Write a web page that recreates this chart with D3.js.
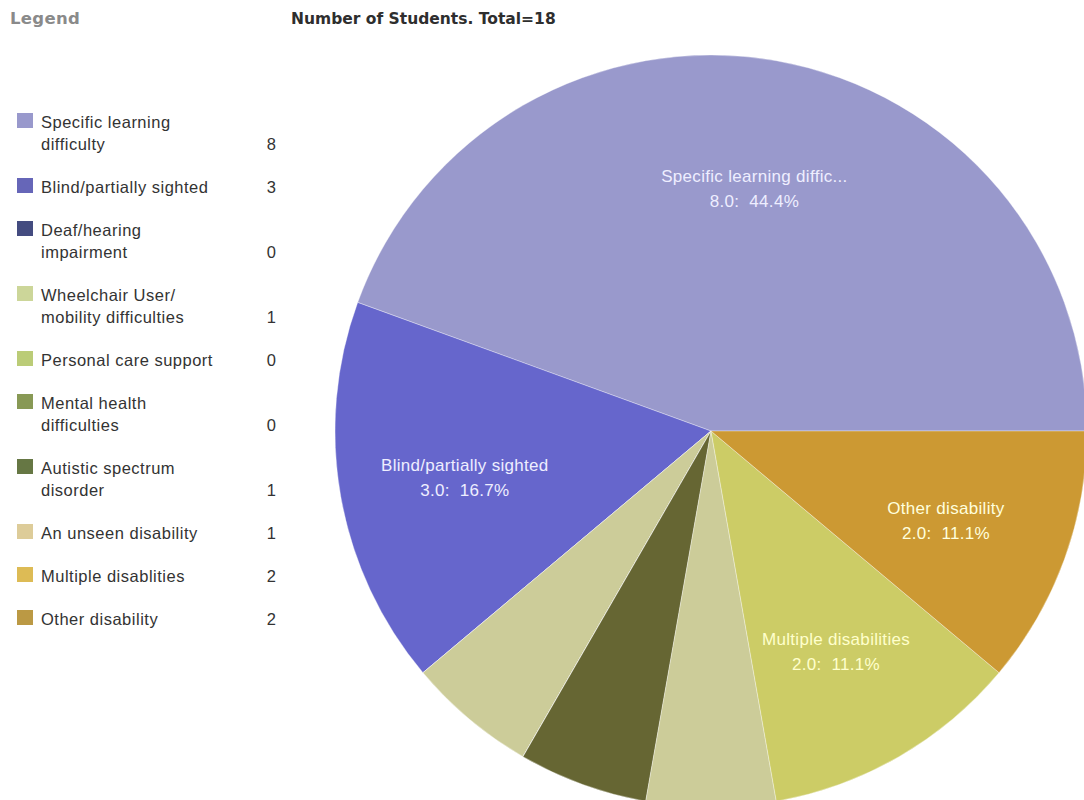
<!DOCTYPE html>
<html>
<head>
<meta charset="utf-8">
<script src="https://cdn.jsdelivr.net/npm/d3@7"></script>
<style>
  html, body { margin: 0; padding: 0; background: #fff; }
  svg { display: block; }
</style>
</head>
<body>
<svg id="chart" width="1084" height="800"></svg>
<script>
// ---- data ----
const categories = [
  "Specific learning difficulty",
  "Blind/partially sighted",
  "Deaf/hearing impairment",
  "Wheelchair User/ mobility difficulties",
  "Personal care support",
  "Mental health difficulties",
  "Autistic spectrum disorder",
  "An unseen disability",
  "Multiple disablities",
  "Other disability"
];
const legendLines = [
  ["Specific learning", "difficulty"],
  ["Blind/partially sighted"],
  ["Deaf/hearing", "impairment"],
  ["Wheelchair User/", "mobility difficulties"],
  ["Personal care support"],
  ["Mental health", "difficulties"],
  ["Autistic spectrum", "disorder"],
  ["An unseen disability"],
  ["Multiple disablities"],
  ["Other disability"]
];
const pieLabels = [
  "Specific learning difficulty",
  "Blind/partially sighted",
  "Deaf/hearing impairment",
  "Wheelchair User/ mobility difficulties",
  "Personal care support",
  "Mental health difficulties",
  "Autistic spectrum disorder",
  "An unseen disability",
  "Multiple disabilities",
  "Other disability"
];
const values = [8, 3, 0, 1, 0, 0, 1, 1, 2, 2];
const title = "Number of Students. Total=18";

// ---- styles ----
const legendColors = ["#9999cc", "#6666b8", "#444c80", "#ccd699", "#bbcc77", "#889955", "#667744", "#ddcc99", "#ddbb55", "#bb9944"];
const sliceColors  = ["#9999cc", "#6666cc", "#444c80", "#cccc99", "#bbcc77", "#889955", "#666633", "#cccc99", "#cccc66", "#cc9933"];
const labelColors  = ["#eeeeff", "#eeeeff", "#ffffff", "#ffffee", "#ffffee", "#ffffee", "#ffffee", "#ffffee", "#ffffcc", "#ffffdd"];
const FONT = "'Liberation Sans', Arial, sans-serif";
const BOLD = "'DejaVu Sans', Verdana, sans-serif";

const svg = d3.select("#chart");
const total = d3.sum(values);

// headings
svg.append("text").attr("x", 10).attr("y", 24)
  .attr("font-family", BOLD).attr("font-weight", "bold")
  .attr("font-size", 16.5).attr("letter-spacing", 0.3).attr("fill", "#8a8a8a").text("Legend");
svg.append("text").attr("x", 291).attr("y", 24)
  .attr("font-family", BOLD).attr("font-weight", "bold")
  .attr("font-size", 15.5).attr("fill", "#2e2e2e").text(title);

// ---- pie ----
const cx = 711, cy = 431, R = 376;
const pie = d3.pie().sort(null).value(d => d)
  .startAngle(Math.PI / 2).endAngle(Math.PI / 2 - 2 * Math.PI);
const arcs = pie(values);
const arc = d3.arc().innerRadius(0).outerRadius(R);
const labelArc = d3.arc().innerRadius(250 * 2 - R).outerRadius(R); // centroid at r=250

const g = svg.append("g").attr("transform", `translate(${cx},${cy})`);
g.selectAll("path").data(arcs).join("path")
  .attr("d", arc)
  .attr("fill", (d, i) => sliceColors[i])
  .attr("stroke", "#ffffff").attr("stroke-opacity", 0.35).attr("stroke-width", 1);

const labelled = arcs.map((d, i) => ({ d, i })).filter(o => o.d.value / total >= 0.1);
const lg = g.selectAll("g.lbl").data(labelled).join("g")
  .attr("class", "lbl")
  .attr("transform", o => `translate(${labelArc.centroid(o.d)})`);
const trunc = s => s.length > 24 ? s.slice(0, 24) + "..." : s;
lg.append("text").attr("text-anchor", "middle").attr("y", -3)
  .attr("font-family", FONT).attr("font-size", 17).attr("letter-spacing", 0.3)
  .attr("fill", o => labelColors[o.i])
  .text(o => trunc(pieLabels[o.i]));
lg.append("text").attr("text-anchor", "middle").attr("y", 22)
  .attr("font-family", FONT).attr("font-size", 17).attr("letter-spacing", 0.3)
  .attr("fill", o => labelColors[o.i])
  .attr("xml:space", "preserve")
  .text(o => `${o.d.value.toFixed(1)}:  ${(o.d.value / total * 100).toFixed(1)}%`);

// ---- legend ----
const legend = svg.append("g");
let base = 128;
categories.forEach((c, i) => {
  const lines = legendLines[i];
  const item = legend.append("g");
  item.append("rect").attr("x", 17).attr("y", base - 15).attr("width", 16).attr("height", 15)
    .attr("fill", legendColors[i]);
  lines.forEach((ln, j) => {
    item.append("text").attr("x", 41).attr("y", base + j * 22)
      .attr("font-family", FONT).attr("font-size", 16.5).attr("letter-spacing", 0.5)
      .attr("fill", "#333").text(ln);
  });
  item.append("text").attr("x", 276).attr("y", base + (lines.length - 1) * 22)
    .attr("text-anchor", "end")
    .attr("font-family", FONT).attr("font-size", 16.5)
    .attr("fill", "#333").text(values[i]);
  base += 43 + (lines.length - 1) * 22;
});
</script>
</body>
</html>
